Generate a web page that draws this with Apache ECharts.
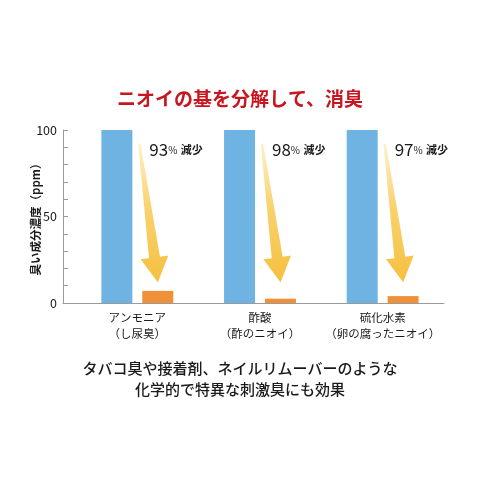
<!DOCTYPE html>
<html>
<head>
<meta charset="utf-8">
<script src="https://cdn.jsdelivr.net/npm/echarts@6/dist/echarts.min.js"></script>
<style>
  html, body { margin: 0; padding: 0; background: #fff; }
  #chart { width: 480px; height: 480px; }
</style>
</head>
<body>
<div id="chart"></div>
<script>
// データ
const categories = ['アンモニア\n（し尿臭）', '酢酸\n（酢のニオイ）', '硫化水素\n（卵の腐ったニオイ）']
const before = [100, 100, 100]
const after = [7, 2.5, 4]
const reductions = ['93', '98', '97']
const yTicks = [0, 50, 100]

const FONT = '"Noto Sans CJK JP", "Noto Sans", sans-serif'

const chart = echarts.init(document.getElementById('chart'))

const arrowFill = new echarts.graphic.LinearGradient(0, 0, 0, 1, [
  { offset: 0, color: '#fdf1cc' },
  { offset: 0.45, color: '#f9d36f' },
  { offset: 1, color: '#f6bf3f' }
])

function renderArrow (params, api) {
  const i = api.value(0)
  const cx = api.coord([i, 0])[0]
  const t = [cx + 2, api.coord([i, 92])[1]]
  const p = [cx + 20.5, api.coord([i, 12])[1]]
  const dx = p[0] - t[0]
  const dy = p[1] - t[1]
  const len = Math.sqrt(dx * dx + dy * dy)
  const u = [dx / len, dy / len]
  const n = [-u[1], u[0]]
  const b = [p[0] - u[0] * 25, p[1] - u[1] * 25]
  const off = (pt, k) => [pt[0] + n[0] * k, pt[1] + n[1] * k]
  const labelY = api.coord([i, 88.5])[1]
  return {
    type: 'group',
    children: [
      {
        type: 'polygon',
        shape: { points: [off(t, 1.2), off(b, 5.5), off(b, 14), p, off(b, -14), off(b, -5.5), off(t, -1.2)] },
        style: { fill: arrowFill }
      },
      {
        type: 'text',
        x: cx + 12,
        y: labelY,
        style: {
          text: '{n|' + reductions[i] + '}{p|%} {k|減少}',
          align: 'left',
          verticalAlign: 'middle',
          rich: {
            n: { fontSize: 17, fontFamily: FONT, fill: '#1a1a1a', color: '#1a1a1a' },
            p: { fontSize: 10, fontFamily: FONT, fill: '#1a1a1a', color: '#1a1a1a' },
            k: { fontSize: 11, fontFamily: FONT, fill: '#1a1a1a', color: '#1a1a1a', fontWeight: 'bold' }
          }
        }
      }
    ]
  }
}

chart.setOption({
  animation: false,
  title: [{
    text: 'ニオイの基を分解して、消臭',
    left: 'center',
    top: 84,
    textStyle: { color: '#c8161e', fontSize: 19, fontWeight: 'bold', fontFamily: FONT }
  }, {
    text: 'タバコ臭や接着剤、ネイルリムーバーのような\n化学的で特異な刺激臭にも効果',
    left: 'center',
    top: 353,
    textStyle: { color: '#1a1a1a', fontSize: 15, fontWeight: 500, lineHeight: 21, fontFamily: FONT }
  }],
  grid: [
    { left: 76, right: 36, top: 130, bottom: 177 },
    { left: 63, right: 36, top: 130, bottom: 177 }
  ],
  xAxis: [{
    type: 'category',
    gridIndex: 0,
    data: categories,
    axisLine: { show: false },
    axisTick: { show: false },
    axisLabel: {
      interval: 0,
      margin: 7,
      color: '#1a1a1a',
      fontSize: 11.5,
      lineHeight: 16,
      fontFamily: FONT
    }
  }, {
    type: 'value',
    gridIndex: 1,
    min: 0,
    max: 1,
    axisLine: { show: true, lineStyle: { color: '#9a9a9a', width: 1 } },
    axisTick: { show: false },
    axisLabel: { show: false },
    splitLine: { show: false }
  }],
  yAxis: [{
    type: 'value',
    gridIndex: 0,
    min: 0,
    max: 100,
    interval: 50,
    offset: 13,
    name: '臭い成分濃度（ppm）',
    nameLocation: 'middle',
    nameRotate: 90,
    nameGap: 22,
    nameMoveOverlap: false,
    nameTextStyle: { color: '#1a1a1a', fontSize: 11.5, fontWeight: 'bold', fontFamily: FONT },
    axisLine: { show: true, lineStyle: { color: '#9a9a9a', width: 1 } },
    axisTick: { show: true, inside: true, length: 5, lineStyle: { color: '#9a9a9a' } },
    minorTick: { show: true, splitNumber: 5, length: 5, lineStyle: { color: '#9a9a9a' } },
    splitLine: { show: false },
    axisLabel: {
      margin: 6,
      color: '#1a1a1a',
      fontSize: 12.5,
      fontFamily: FONT,
      formatter: v => (yTicks.indexOf(v) >= 0 ? String(v) : '')
    }
  }, {
    type: 'value',
    gridIndex: 1,
    show: false
  }],
  series: [{
    type: 'bar',
    data: before,
    barWidth: 31,
    barGap: '32%',
    itemStyle: { color: '#6fb3e3' }
  }, {
    type: 'bar',
    data: after,
    barWidth: 31,
    itemStyle: { color: '#f0913a' }
  }, {
    type: 'custom',
    data: categories.map((c, i) => [i]),
    renderItem: renderArrow,
    z: 5
  }]
})
</script>
</body>
</html>
